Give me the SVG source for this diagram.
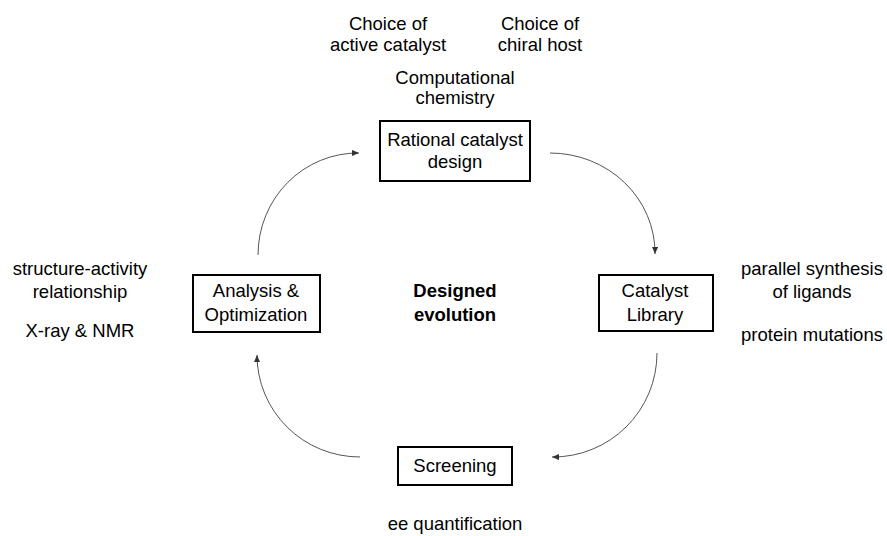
<svg xmlns="http://www.w3.org/2000/svg" width="887" height="536" viewBox="0 0 887 536">
  <style>
    text { font-family: "Liberation Sans", Arial, sans-serif; font-size: 18.5px; fill: #000; text-anchor: middle; }
    .bold { font-weight: bold; }
    .box { fill: #fff; stroke: #000; stroke-width: 2; }
    .arc { fill: none; stroke: #555; stroke-width: 1; marker-end: url(#head); }
  </style>
  <defs>
    <marker id="head" markerUnits="userSpaceOnUse" markerWidth="7" markerHeight="6" refX="7" refY="3" orient="auto">
      <path d="M0,0 L7,3 L0,6 z" fill="#333"/>
    </marker>
  </defs>
  <rect width="887" height="536" fill="#fff"/>

  <!-- cycle connectors -->
  <g id="connectors">
    <path class="arc" d="M258,255 A100,102 0 0 1 359,153"/>
    <path class="arc" d="M550,153 A105,100 0 0 1 655,254"/>
    <path class="arc" d="M657,353 A104,104 0 0 1 552,457"/>
    <path class="arc" d="M360,457 A103,102 0 0 1 257,355"/>
  </g>

  <g id="design">
    <rect class="box" x="380" y="121" width="150" height="60"/>
    <text x="455" y="146">Rational catalyst</text>
    <text x="455" y="168">design</text>
  </g>

  <g id="library">
    <rect class="box" x="599" y="275" width="114" height="56"/>
    <text x="655" y="297">Catalyst</text>
    <text x="655" y="321">Library</text>
  </g>

  <g id="screening">
    <rect class="box" x="398" y="447" width="114" height="38"/>
    <text x="455" y="472">Screening</text>
  </g>

  <g id="analysis">
    <rect class="box" x="193" y="275" width="127" height="57"/>
    <text x="256" y="297">Analysis &amp;</text>
    <text x="256" y="321">Optimization</text>
  </g>

  <g id="center-label">
    <text class="bold" x="455" y="297">Designed</text>
    <text class="bold" x="455" y="321">evolution</text>
  </g>

  <!-- annotations -->
  <g id="notes-top">
    <text x="388" y="30">Choice of</text>
    <text x="388" y="51">active catalyst</text>
    <text x="540" y="30">Choice of</text>
    <text x="540" y="51">chiral host</text>
    <text x="455" y="84">Computational</text>
    <text x="455" y="104">chemistry</text>
  </g>
  <g id="notes-left">
    <text x="80" y="275">structure-activity</text>
    <text x="80" y="298">relationship</text>
    <text x="80" y="337">X-ray &amp; NMR</text>
  </g>
  <g id="notes-right">
    <text x="812" y="275">parallel synthesis</text>
    <text x="812" y="298">of ligands</text>
    <text x="812" y="341">protein mutations</text>
  </g>
  <g id="notes-bottom">
    <text x="455" y="530">ee quantification</text>
  </g>
</svg>
